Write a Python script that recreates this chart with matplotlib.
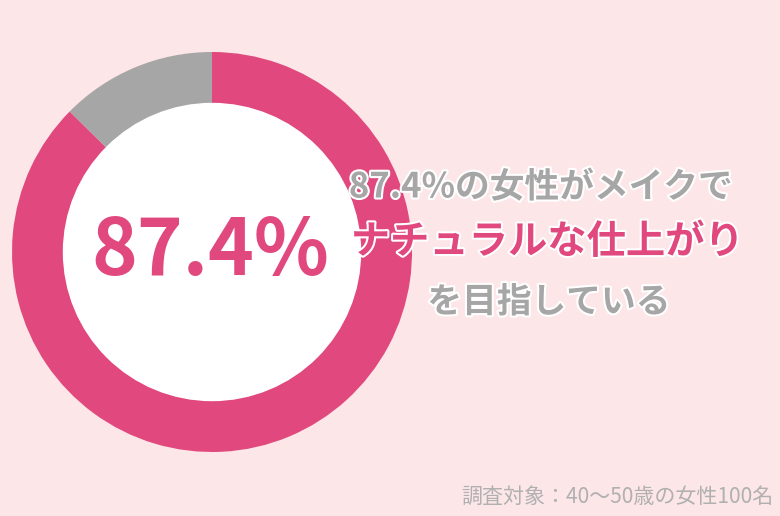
import matplotlib
matplotlib.use("Agg")
import matplotlib.pyplot as plt
import matplotlib.patheffects as pe
from matplotlib.patches import Circle

# data
labels = ["ナチュラル", "その他"]
shares = [87.4, 12.6]
colors = ["#e0487e", "#a6a6a6"]
center_label = "87.4%"
line1 = "87.4%の女性がメイクで"
line2 = "ナチュラルな仕上がり"
line3 = "を目指している"
note = "調査対象：40〜50歳の女性100名"

plt.rcParams['font.family'] = ['Noto Sans CJK JP', 'DejaVu Sans']

W, H = 780, 516
fig = plt.figure(figsize=(W / 100, H / 100), dpi=100)
fig.patch.set_facecolor("#fde6e8")
ax = fig.add_axes([0, 0, 1, 1])
ax.set_facecolor("#fde6e8")

# donut, centre at (212, 252) in pixel coords (y from top)
cx, cy = 212, H - 252
ax.pie(shares, colors=colors, startangle=90, counterclock=False,
       center=(cx, cy), radius=200,
       wedgeprops=dict(width=52, linewidth=0))
ax.add_patch(Circle((cx, cy), 148.5, color="white", zorder=3))

ax.set_xlim(0, W)
ax.set_ylim(0, H)
ax.set_aspect("equal")
ax.axis("off")

ax.text(cx - 2, H - 252, center_label, ha="center", va="center",
        fontsize=56, fontweight="bold", color="#e0487e", zorder=4)

stroke = [pe.withStroke(linewidth=3, foreground="white")]
ax.text(541, H - 187, line1, ha="center", va="center", fontsize=25,
        fontweight="bold", color="#a6a6a6", path_effects=stroke, zorder=5)
ax.text(547, H - 242, line2, ha="center", va="center", fontsize=28.3,
        fontweight="bold", color="#e0487e", path_effects=stroke, zorder=5)
ax.text(549, H - 302, line3, ha="center", va="center", fontsize=25,
        fontweight="bold", color="#a6a6a6", path_effects=stroke, zorder=5)

ax.text(773, H - 497, note, ha="right", va="center", fontsize=15.1,
        color="#b0b0b0", zorder=5)

fig.savefig("out.png", dpi=100, facecolor=fig.get_facecolor())
